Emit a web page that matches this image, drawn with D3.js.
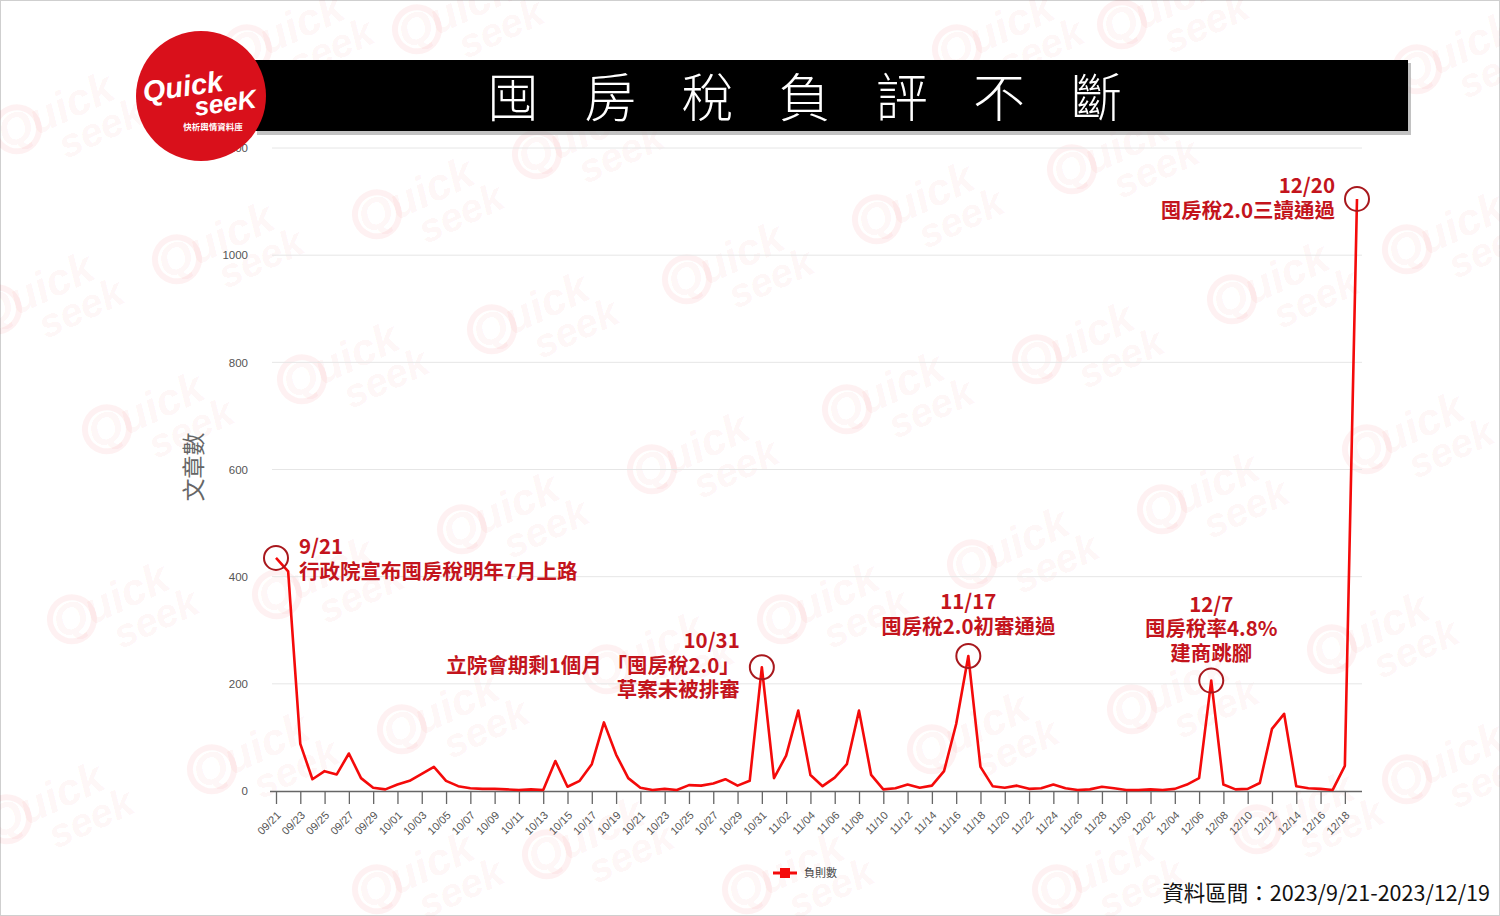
<!DOCTYPE html>
<html><head><meta charset="utf-8">
<script src="https://cdn.jsdelivr.net/npm/d3@7"></script>
<style>
html,body{margin:0;padding:0;background:#fff;}
svg{display:block;}
</style></head>
<body>
<svg id="chart" width="1500" height="916"></svg>
<script>
// ---------- data ----------
const dates = ["09/21","09/22","09/23","09/24","09/25","09/26","09/27","09/28","09/29","09/30",
"10/01","10/02","10/03","10/04","10/05","10/06","10/07","10/08","10/09","10/10",
"10/11","10/12","10/13","10/14","10/15","10/16","10/17","10/18","10/19","10/20",
"10/21","10/22","10/23","10/24","10/25","10/26","10/27","10/28","10/29","10/30",
"10/31","11/01","11/02","11/03","11/04","11/05","11/06","11/07","11/08","11/09",
"11/10","11/11","11/12","11/13","11/14","11/15","11/16","11/17","11/18","11/19",
"11/20","11/21","11/22","11/23","11/24","11/25","11/26","11/27","11/28","11/29",
"11/30","12/01","12/02","12/03","12/04","12/05","12/06","12/07","12/08","12/09",
"12/10","12/11","12/12","12/13","12/14","12/15","12/16","12/17","12/18","12/19"];
const counts = [435,410,88,22,37,31,70,24,6,3,
12,19,32,45,19,9,5,4,4,3,
2,3,2,56,8,19,50,128,68,24,
6,2,4,2,11,10,14,22,10,19,
231,24,66,150,30,9,25,50,150,30,
3,5,12,6,10,37,125,252,45,9,
6,10,4,5,12,5,2,3,8,5,
2,2,3,2,4,12,24,206,12,3,
4,15,116,144,9,5,4,2,47,1105];
const yTicks = [0,200,400,600,800,1000,1200];
const tickDates = dates.filter((d,i)=> i%2===0);
const seriesName = "負則數";
const titleText = "囤房稅負評不斷";
const yTitle = "文章數";
const sourceText = "資料區間：2023/9/21-2023/12/19";
const annotations = [
  {date:"09/21", lines:["9/21","行政院宣布囤房稅明年7月上路"], anchor:"start", dx:23, dy:21},
  {date:"10/31", lines:["10/31","立院會期剩1個月 「囤房稅2.0」","草案未被排審"], anchor:"end", dx:-22, dy:30},
  {date:"11/17", lines:["11/17","囤房稅2.0初審通過"], anchor:"middle", dx:0, dy:-22},
  {date:"12/07", lines:["12/7","囤房稅率4.8%","建商跳腳"], anchor:"middle", dx:0, dy:-20},
  {date:"12/19", lines:["12/20","囤房稅2.0三讀通過"], anchor:"end", dx:-22, dy:19}
];
const watermarks = [[300,40],[470,20],[1010,40],[1175,15],[1470,60],[70,120],[430,205],[590,145],
[1125,160],[230,250],[740,270],[930,210],[1285,290],[1460,240],[50,300],[545,320],[355,370],
[1090,350],[160,420],[900,400],[705,460],[1215,500],[1420,440],[515,520],[1025,555],[125,610],
[330,585],[835,610],[1385,640],[455,720],[660,660],[1185,700],[985,740],[265,760],[60,810],
[1310,820],[1460,770],[430,880],[600,845],[1110,880],[800,880]];

// ---------- setup ----------
const svg = d3.select("#chart");
const W = 1500, H = 916;
svg.append("rect").attr("x",0.5).attr("y",0.5).attr("width",W-1).attr("height",H-1)
  .attr("fill","#fff").attr("stroke","#cfcfcf");

// watermarks
const wm = svg.append("g").attr("pointer-events","none");
watermarks.forEach(([x,y])=>{
  const g = wm.append("g").attr("transform",`translate(${x},${y}) rotate(-25)`)
    .attr("fill","#e60012").attr("fill-opacity",0.055)
    .attr("font-family","Liberation Sans, Arial, sans-serif").attr("font-weight","bold").attr("font-style","italic");
  g.append("text").attr("x",-70).attr("y",0).attr("font-size",44).text("Quick");
  g.append("text").attr("x",-20).attr("y",34).attr("font-size",40).text("seek");
  g.append("circle").attr("cx",-52).attr("cy",-14).attr("r",22).attr("fill","none")
    .attr("stroke","#e60012").attr("stroke-opacity",0.055).attr("stroke-width",6);
});

const x = d3.scalePoint().domain(dates).range([276,1357]);
const y = d3.scaleLinear().domain([0,1200]).range([791,148]);

// gridlines
svg.append("g").selectAll("line").data(yTicks.filter(d=>d>0)).join("line")
  .attr("x1",272).attr("x2",1362).attr("y1",d=>y(d)).attr("y2",d=>y(d))
  .attr("stroke","#e6e6e6").attr("stroke-width",1);

// y axis labels
const yAxis = d3.axisLeft(y).tickValues(yTicks).tickSize(0).tickPadding(0).tickFormat(d3.format("d"));
const ya = svg.append("g").attr("transform","translate(248,0)").call(yAxis);
ya.select(".domain").remove();
ya.selectAll("text").attr("font-family","Liberation Sans, Arial, sans-serif").attr("font-size",11.5).attr("fill","#555");

// y title
svg.append("text").attr("transform","translate(202,467) rotate(-90)")
  .attr("text-anchor","middle").attr("font-family","Noto Sans CJK TC, sans-serif")
  .attr("font-size",23).attr("fill","#666").text(yTitle);

// x axis
const xAxis = d3.axisBottom(x).tickValues(tickDates).tickSize(13).tickSizeOuter(0).tickPadding(4);
const xa = svg.append("g").attr("transform",`translate(0,${y(0)})`).call(xAxis);
xa.select(".domain").attr("d","M270,0.5H1362").attr("stroke","#666").attr("stroke-width",1.5);
xa.selectAll(".tick line").attr("stroke","#666").attr("stroke-width",1.3);
xa.selectAll(".tick text").attr("font-family","Liberation Sans, Arial, sans-serif").attr("font-size",11)
  .attr("fill","#555").attr("text-anchor","end").attr("dy",0)
  .attr("transform","translate(5,25) rotate(-45)").attr("y",0).attr("x",0);

// line
const line = d3.line().x((d,i)=>x(dates[i])).y(d=>y(d));
svg.append("path").datum(counts).attr("d",line).attr("fill","none")
  .attr("stroke","#f40a0a").attr("stroke-width",2.6).attr("stroke-linejoin","round");

// annotations
const annColor = "#c3141c";
annotations.forEach(a=>{
  const i = dates.indexOf(a.date);
  const cx = x(a.date), cy = y(counts[i]);
  svg.append("circle").attr("cx",cx).attr("cy",cy).attr("r",12)
    .attr("fill","none").attr("stroke","#a8181d").attr("stroke-width",2);
  const t = svg.append("text").attr("font-family","Noto Sans CJK TC, sans-serif")
    .attr("font-size",20.5).attr("font-weight",700).attr("fill",annColor)
    .attr("text-anchor",a.anchor);
  const n = a.lines.length;
  a.lines.forEach((ln,k)=>{
    t.append("tspan").attr("x",cx + a.dx).attr("y",cy + a.dy - (n-1-k)*24.5).text(ln);
  });
});

// legend
const lg = svg.append("g").attr("transform","translate(785,873)");
lg.append("line").attr("x1",-12).attr("x2",12).attr("stroke","#f40a0a").attr("stroke-width",3);
lg.append("rect").attr("x",-5).attr("y",-5).attr("width",10).attr("height",10).attr("fill","#f40a0a");
lg.append("text").attr("x",19).attr("y",4).attr("font-family","Noto Sans CJK TC, sans-serif")
  .attr("font-size",11).attr("fill","#444").text(seriesName);

// source
svg.append("text").attr("x",1490).attr("y",901).attr("text-anchor","end")
  .attr("font-family","Noto Sans CJK TC, sans-serif").attr("font-size",21.5).attr("fill","#111").text(sourceText);

// title bar
svg.append("rect").attr("x",257).attr("y",63).attr("width",1154).attr("height",72).attr("fill","#9a9a9a").attr("opacity",0.6);
svg.append("rect").attr("x",253).attr("y",60).attr("width",1155).attr("height",71).attr("fill","#000");
const chars = Array.from(titleText);
svg.append("g").selectAll("text").data(chars).join("text")
  .attr("x",(d,i)=>513 + i*97.2).attr("y",117).attr("text-anchor","middle")
  .attr("font-family","Noto Sans CJK TC, sans-serif").attr("font-weight",300)
  .attr("font-size",52).attr("fill","#fff").text(d=>d);

// logo
const logo = svg.append("g").attr("transform","translate(201,96)");
logo.append("circle").attr("r",65).attr("fill","#d9101b");
logo.append("text").attr("x",-57).attr("y",-2).attr("transform","rotate(-8)")
  .attr("font-family","Liberation Sans, Arial, sans-serif").attr("font-weight","bold").attr("font-style","italic")
  .attr("font-size",29).attr("fill","#fff").text("Quick");
logo.append("text").attr("x",-8).attr("y",19).attr("transform","rotate(-8)")
  .attr("font-family","Liberation Sans, Arial, sans-serif").attr("font-weight","bold").attr("font-style","italic")
  .attr("font-size",26).attr("fill","#fff").text("seeK");
logo.append("text").attr("x",12).attr("y",34).attr("text-anchor","middle")
  .attr("font-family","Noto Sans CJK TC, sans-serif").attr("font-weight",700)
  .attr("font-size",8.5).attr("fill","#fff").text("快析輿情資料庫");
</script>
</body></html>
